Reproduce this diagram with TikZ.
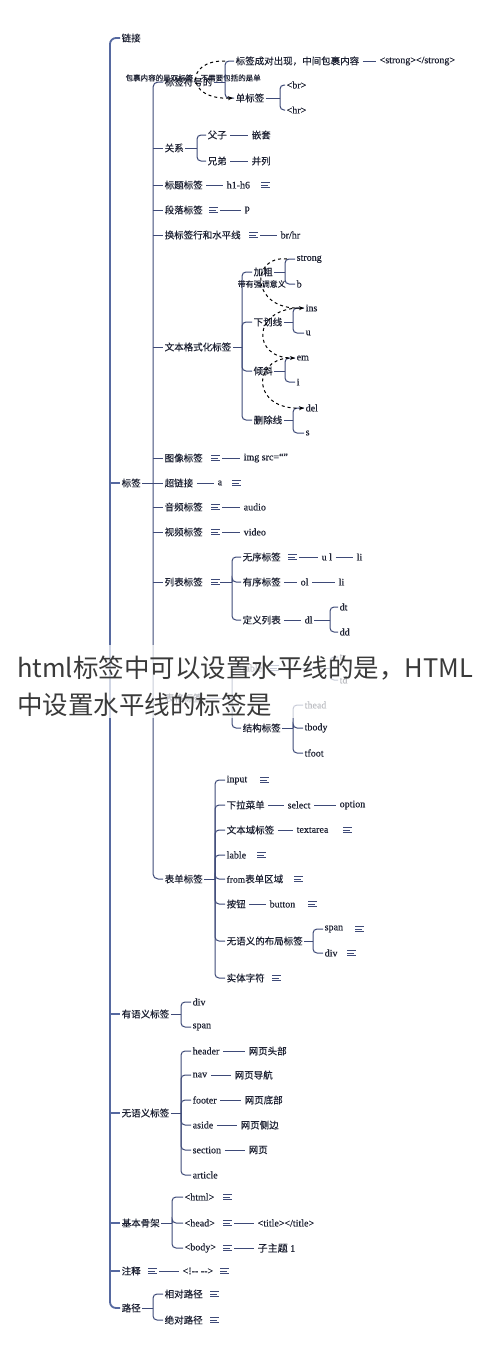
\documentclass[tikz,border=0pt]{standalone}
\usepackage{fontspec}
\setmainfont[FakeBold=0.3]{Liberation Serif}
\newfontfamily\cjk[FakeBold=0.2]{Noto Sans CJK SC}
\newfontfamily\cjkcap{Noto Sans CJK SC}
\usetikzlibrary{arrows.meta,calc}
\definecolor{lc}{HTML}{3E4A78}
\definecolor{tc}{HTML}{1E2233}
\definecolor{tk}{HTML}{5669A0}
\definecolor{ov}{HTML}{3A3A3A}
\newcommand\brk[4]{%
  \coordinate (#1b) at (#2,#3);
  \draw[ln] (#1.east) -- (#1b);
  \foreach \c in {#4} {\draw[ln, rounded corners=4pt] (#1b) |- (\c.west);}
}
\begin{document}
\begin{tikzpicture}[x=1pt,y=-1pt,
  cn/.style={anchor=west, inner sep=1.5pt, text=tc, font=\cjk\fontsize{9.5}{11}\selectfont},
  en/.style={anchor=west, inner sep=1.5pt, text=tc, font=\fontsize{10}{12}\selectfont},
  ln/.style={draw=lc, line width=1pt},
  trunk/.style={draw=tk, line width=1.8pt},
  lk/.style={draw=lc, line width=1pt, shorten <=2pt, shorten >=2pt},
  dsh/.style={draw=black, line width=1pt, dashed, -{Stealth[length=5pt,width=4pt]}},
  note/.style={minimum width=9pt, minimum height=7pt, inner sep=0pt, anchor=west,
    path picture={\draw[lc, line width=0.8pt]
      ([yshift=-1pt]path picture bounding box.north west) -- ++(9pt,0)
      (path picture bounding box.west) -- ++(7pt,0)
      ([yshift=1pt]path picture bounding box.south west) -- ++(9pt,0);}}
]
\useasboundingbox (0,0) rectangle (490,1357);
\fill[white] (0,0) rectangle (490,1357);

% ---------- root level ----------
\node[cn] (lj) at (120,38) {链接};
\node[cn] (bq) at (120,483) {标签};
\node[cn] (yy) at (120,1014) {有语义标签};
\node[cn] (wy) at (120,1113) {无语义标签};
\node[cn] (gj) at (120,1223) {基本骨架};
\node[cn] (zs) at (120,1271) {注释};
\node[cn] (lu) at (120,1308) {路径};
\coordinate (T1) at (110,600);
\draw[trunk, rounded corners=6pt] (lj.west) -| (T1) |- (lu.west);
\foreach \n in {bq,yy,wy,gj,zs} \draw[trunk] (\n.west -| T1) -- (\n.west);

% ---------- 标签 subtree ----------
\node[cn, font=\cjk\fontsize{7.5}{8}\selectfont] (bgl) at (124,78) {包裹内容的是双标签，不需要包括的是单};
\node[cn] (fh) at (163,82) {标签符号的};
\node[cn] (gx) at (163,148) {关系};
\node[cn] (bt) at (163,185) {标题标签};
\node[cn] (dl) at (163,210) {段落标签};
\node[cn] (hb) at (163,235) {换标签行和水平线};
\node[cn] (wb) at (163,347) {文本格式化标签};
\node[cn] (tx) at (163,458) {图像标签};
\node[cn] (cl) at (163,483) {超链接};
\node[cn] (yp) at (163,507) {音频标签};
\node[cn] (sp) at (163,532) {视频标签};
\node[cn] (lb) at (163,582) {列表标签};
\node[cn] (bgq) at (163,698) {表格标签};
\node[cn] (bd) at (163,879) {表单标签};
\coordinate (T2) at (153,500);
\draw[ln, rounded corners=5pt] (fh.west) -| (T2) |- (bd.west);
\draw[ln] (bq.east) -- (bq.east -| T2);
\foreach \n in {gx,bt,dl,hb,wb,tx,cl,yp,sp,lb,bgq} \draw[ln] (\n.west -| T2) -- (\n.west);

% 双标签 / 单标签
\node[cn] (cheng) at (234,61) {标签成对出现，中间包裹内容};
\node[en] (s1) at (378,61) {<strong></strong>};
\draw[lk] (cheng) -- (s1);
\node[cn] (dan) at (234,98) {单标签};
\node[en] (br) at (285,85) {<br>};
\node[en] (hr) at (285,110) {<hr>};
\brk{fh}{225}{82}{cheng,dan}
\brk{dan}{280}{98}{br,hr}
\draw[dsh] ([xshift=-9pt]cheng.west) .. controls (185,60) and (185,100) .. ([xshift=-1pt]dan.west);

% 关系
\node[cn] (fz) at (206,135) {父子};
\node[cn] (qt) at (250,135) {嵌套};
\node[cn] (xd) at (206,161) {兄弟};
\node[cn] (bl) at (250,161) {并列};
\brk{gx}{197}{148}{fz,xd}
\draw[lk] (fz) -- (qt);
\draw[lk] (xd) -- (bl);

% 标题 / 段落 / 换行
\node[en] (h16) at (225,185) {h1-h6};
\node[note] (nt1) at (261,185) {};
\draw[lk] (bt) -- (h16);
\node[note] (nt2) at (209,210) {};
\node[en] (pp) at (243,210) {p};
\draw[lk] (nt2) -- (pp);
\node[note] (nt3) at (249,235) {};
\node[en] (brhr) at (279,235) {br/hr};
\draw[lk] (nt3) -- (brhr);

% 文本格式化标签
\node[cn] (jc) at (252,272) {加粗};
\node[cn] (xh) at (252,322) {下划线};
\node[cn] (qx) at (252,371) {倾斜};
\node[cn] (sc) at (252,420) {删除线};
\brk{wb}{242}{347}{jc,xh,qx,sc}
\node[en] (strong) at (295,259) {strong};
\node[en] (bb) at (295,284) {b};
\node[en] (ins) at (304,308) {ins};
\node[en] (uu) at (304,333) {u};
\node[en] (em) at (295,358) {em};
\node[en] (ii) at (295,382) {i};
\node[en] (del) at (304,408) {del};
\node[en] (ss) at (304,433) {s};
\brk{jc}{285}{272}{strong,bb}
\brk{xh}{293}{322}{ins,uu}
\brk{qx}{285}{371}{em,ii}
\brk{sc}{293}{420}{del,ss}
\node[cn, font=\cjk\fontsize{8}{9}\selectfont] (qd) at (236,284) {带有强调意义};
\draw[dsh] ([xshift=-8pt]strong.west) .. controls (250,255) and (250,310) .. (ins.west);
\draw[dsh] ([xshift=-6pt]ins.west) .. controls (252,310) and (252,358) .. (em.west);
\draw[dsh] ([xshift=-6pt]em.west) .. controls (252,360) and (252,410) .. (del.west);

% 图像 / 超链接 / 音频 / 视频
\node[note] (nt4) at (211,458) {};
\node[en] (img) at (242,458) {img src=“”};
\draw[lk] (nt4) -- (img);
\node[en] (aa) at (216,483) {a};
\node[note] (nt5) at (232,483) {};
\draw[lk] (cl) -- (aa);
\node[note] (nt6) at (211,507) {};
\node[en] (au) at (242,507) {audio};
\draw[lk] (nt6) -- (au);
\node[note] (nt7) at (211,532) {};
\node[en] (vi) at (242,532) {video};
\draw[lk] (nt7) -- (vi);

% 列表标签
\node[note] (nt8) at (211,582) {};
\node[cn] (wx) at (241,557) {无序标签};
\node[cn] (yx) at (241,582) {有序标签};
\node[cn] (dy) at (241,620) {定义列表};
\brk{nt8}{232}{582}{wx,yx,dy}
\node[note] (nt9) at (288,557) {};
\node[en] (ul) at (320,557) {u l};
\node[en] (li1) at (355,557) {li};
\draw[lk] (nt9) -- (ul);
\draw[lk] (ul) -- (li1);
\node[en] (ol) at (299,582) {ol};
\node[en] (li2) at (337,582) {li};
\draw[lk] (yx) -- (ol);
\draw[lk] (ol) -- (li2);
\node[en] (dl2) at (303,620) {dl};
\node[en] (dt) at (338,607) {dt};
\node[en] (dd) at (338,632) {dd};
\draw[lk] (dy) -- (dl2);
\brk{dl2}{330}{620}{dt,dd}

% 表格标签
\node[en] (tab) at (241,668) {table};
\node[cn] (jg) at (241,728) {结构标签};
\brk{bgq}{232}{698}{tab,jg}
\node[note] (nt10) at (270,668) {};
\node[en] (tr) at (338,657) {tr};
\node[en] (td) at (338,680) {td};
\brk{nt10}{330}{668}{tr,td}
\node[en] (thead) at (303,705) {thead};
\node[en] (tbody) at (303,728) {tbody};
\node[en] (tfoot) at (303,753) {tfoot};
\brk{jg}{293}{728}{thead,tbody,tfoot}

% 表单标签
\node[en] (in1) at (225,780) {input};
\node[note] (nt11) at (260,780) {};
\node[cn] (xl) at (225,805) {下拉菜单};
\node[en] (sel) at (286,805) {select};
\node[en] (opt) at (338,805) {option};
\draw[lk] (xl) -- (sel);
\draw[lk] (sel) -- (opt);
\node[cn] (wby) at (225,830) {文本域标签};
\node[en] (ta) at (295,830) {textarea};
\node[note] (nt12) at (343,830) {};
\draw[lk] (wby) -- (ta);
\node[en] (lab) at (225,855) {lable};
\node[note] (nt13) at (257,855) {};
\node[cn] (fr) at (225,879) {\rmfamily from\cjk 表单区域};
\node[note] (nt14) at (294,879) {};
\node[cn] (an) at (225,904) {按钮};
\node[en] (btn) at (268,904) {button};
\node[note] (nt15) at (308,904) {};
\draw[lk] (an) -- (btn);
\node[cn] (wyb) at (225,941) {无语义的布局标签};
\node[en] (spn) at (323,929) {span};
\node[note] (nt16) at (355,929) {};
\node[en] (dv) at (323,953) {div};
\node[note] (nt17) at (347,953) {};
\brk{wyb}{313}{941}{spn,dv}
\node[cn] (st) at (225,978) {实体字符};
\node[note] (nt18) at (272,978) {};
\brk{bd}{215}{879}{in1,xl,wby,lab,fr,an,wyb,st}

% 有语义标签
\node[en] (dv2) at (191,1002) {div};
\node[en] (spn2) at (191,1027) {span};
\brk{yy}{181}{1014}{dv2,spn2}

% 无语义标签
\node[en] (hd) at (191,1051) {header};
\node[cn] (hd2) at (247,1051) {网页头部};
\node[en] (nv) at (191,1075) {nav};
\node[cn] (nv2) at (233,1075) {网页导航};
\node[en] (ft) at (191,1100) {footer};
\node[cn] (ft2) at (243,1100) {网页底部};
\node[en] (as) at (191,1125) {aside};
\node[cn] (as2) at (239,1125) {网页侧边};
\node[en] (se) at (191,1150) {section};
\node[cn] (se2) at (247,1150) {网页};
\node[en] (ar) at (191,1175) {article};
\foreach \a/\b in {hd/hd2,nv/nv2,ft/ft2,as/as2,se/se2} \draw[lk] (\a) -- (\b);
\brk{wy}{181}{1113}{hd,nv,ft,as,se,ar}

% 基本骨架
\node[en] (html) at (183,1197) {<html>};
\node[note] (nt19) at (223,1197) {};
\node[en] (head) at (183,1223) {<head>};
\node[note] (nt20) at (223,1223) {};
\node[en] (title) at (256,1223) {<title></title>};
\draw[lk] (nt20) -- (title);
\node[en] (body) at (183,1248) {<body>};
\node[note] (nt21) at (223,1248) {};
\node[en] (zt) at (256,1248) {{\cjk 子主题} 1};
\draw[lk] (nt21) -- (zt);
\brk{gj}{172}{1223}{html,head,body}

% 注释
\node[note] (nt22) at (148,1271) {};
\node[en] (cm) at (181,1271) {<!{-}{-} {-}{-}>};
\node[note] (nt23) at (220,1271) {};
\draw[lk] (nt22) -- (cm);

% 路径
\node[cn] (xd1) at (163,1294) {相对路径};
\node[note] (nt24) at (210,1294) {};
\node[cn] (jd) at (163,1320) {绝对路径};
\node[note] (nt25) at (210,1320) {};
\brk{lu}{153}{1308}{xd1,jd}

% ---------- overlay caption ----------
\fill[white, opacity=0.72] (0,645) rectangle (490,718);
\node[anchor=west, inner sep=0pt, text=ov, font=\cjkcap\fontsize{25.5}{30}\selectfont] (ot1) at (17,668) {html标签中可以设置水平线的是，HTML};
\node[anchor=west, inner sep=0pt, text=ov, font=\cjkcap\fontsize{25.5}{30}\selectfont] (ot2) at (17,705) {中设置水平线的标签是};
\end{tikzpicture}
\end{document}
